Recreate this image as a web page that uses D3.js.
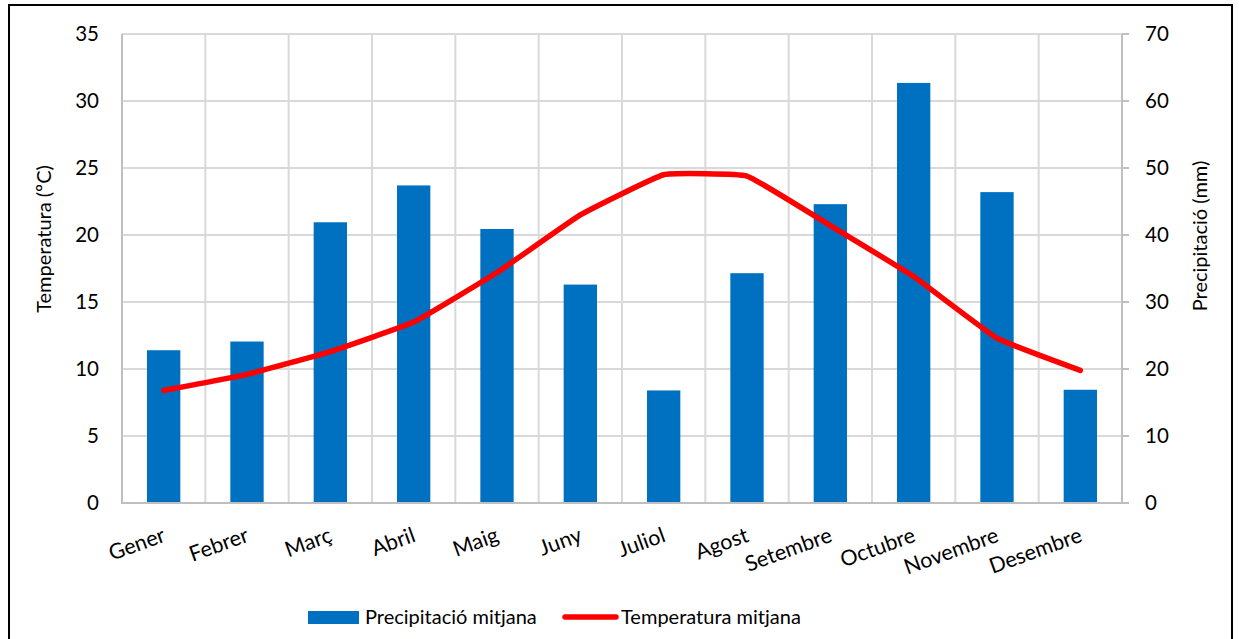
<!DOCTYPE html>
<head>
  <meta charset="utf-8">
  <script src="https://d3js.org/d3.v7.min.js"></script>
  <style>
    body { margin: 0; background: #ffffff; }
    svg text { font-family: Lato, "Open Sans", sans-serif; fill: #000000; }
  </style>
</head>
<body>
<script>
  // Dades climàtiques mensuals
  var mesos = ["Gener", "Febrer", "Març", "Abril", "Maig", "Juny",
               "Juliol", "Agost", "Setembre", "Octubre", "Novembre", "Desembre"];
  var precipitacio = [22.8, 24.1, 41.9, 47.4, 40.9, 32.6, 16.8, 34.3, 44.6, 62.7, 46.4, 16.9];
  var temperatura = [8.4, 9.6, 11.3, 13.5, 17.2, 21.5, 24.5, 24.4, 20.7, 16.9, 12.3, 9.9];
  var ticksTemp = [0, 5, 10, 15, 20, 25, 30, 35];
  var ticksPrec = [0, 10, 20, 30, 40, 50, 60, 70];

  var w = 1239, h = 639;
  var pL = 122, pR = 1122, pT = 34, pB = 503;

  var svg = d3.select("body").append("svg")
    .attr("width", w)
    .attr("height", h);

  // marc negre
  svg.append("rect")
    .attr("x", 9).attr("y", 5)
    .attr("width", 1223).attr("height", 660)
    .attr("fill", "none")
    .attr("stroke", "#000")
    .attr("stroke-width", 2);

  var x = d3.scaleBand().domain(mesos).range([pL, pR]);
  var yT = d3.scaleLinear().domain([0, 35]).range([pB, pT]);
  var yP = d3.scaleLinear().domain([0, 70]).range([pB, pT]);

  // quadrícula horitzontal
  svg.append("g").selectAll("line")
    .data(ticksTemp.slice(1))
    .enter().append("line")
    .attr("x1", pL).attr("x2", pR)
    .attr("y1", function(d) { return yT(d); })
    .attr("y2", function(d) { return yT(d); })
    .attr("stroke", "#d9d9d9").attr("stroke-width", 2);

  // quadrícula vertical (entre categories)
  svg.append("g").selectAll("line")
    .data(mesos.slice(1))
    .enter().append("line")
    .attr("x1", function(d) { return x(d); })
    .attr("x2", function(d) { return x(d); })
    .attr("y1", pT).attr("y2", pB)
    .attr("stroke", "#d9d9d9").attr("stroke-width", 2);

  // barres de precipitació
  var bw = x.bandwidth() * 0.4;
  svg.append("g").selectAll("rect")
    .data(precipitacio)
    .enter().append("rect")
    .attr("x", function(d, i) { return x(mesos[i]) + x.bandwidth() / 2 - bw / 2; })
    .attr("y", function(d) { return yP(d); })
    .attr("width", bw)
    .attr("height", function(d) { return pB - yP(d); })
    .attr("fill", "#0070c0");

  // eixos
  var ax = svg.append("g").attr("stroke", "#bfbfbf").attr("stroke-width", 2);
  ax.append("line").attr("x1", pL).attr("x2", pL).attr("y1", pT).attr("y2", pB + 1);
  ax.append("line").attr("x1", pL).attr("x2", pR + 7).attr("y1", pB).attr("y2", pB);
  ax.append("line").attr("x1", pR).attr("x2", pR).attr("y1", pT).attr("y2", pB);
  ax.selectAll(".tk").data(ticksPrec).enter().append("line")
    .attr("x1", pR).attr("x2", pR + 7)
    .attr("y1", function(d) { return yP(d); })
    .attr("y2", function(d) { return yP(d); });

  // etiquetes de l'eix esquerre
  svg.append("g").selectAll("text")
    .data(ticksTemp)
    .enter().append("text")
    .attr("x", 99)
    .attr("y", function(d) { return yT(d); })
    .attr("dy", "0.36em")
    .attr("text-anchor", "end")
    .style("font-size", "20.5px")
    .text(function(d) { return d; });

  // etiquetes de l'eix dret
  svg.append("g").selectAll("text")
    .data(ticksPrec)
    .enter().append("text")
    .attr("x", 1145)
    .attr("y", function(d) { return yP(d); })
    .attr("dy", "0.36em")
    .style("font-size", "20.5px")
    .text(function(d) { return d; });

  // etiquetes dels mesos (inclinades)
  svg.append("g").selectAll("text")
    .data(mesos)
    .enter().append("text")
    .attr("transform", function(d) {
      return "translate(" + (x(d) + x.bandwidth() / 2 + 3) + "," + 541 + ") rotate(-20)";
    })
    .attr("text-anchor", "end")
    .style("font-size", "21.5px")
    .text(function(d) { return d; });

  // títols dels eixos
  svg.append("text")
    .attr("transform", "translate(51,239) rotate(-90)")
    .attr("text-anchor", "middle")
    .style("font-size", "20px")
    .text("Temperatura (ºC)");
  svg.append("text")
    .attr("transform", "translate(1207,236) rotate(-90)")
    .attr("text-anchor", "middle")
    .style("font-size", "20px")
    .text("Precipitació (mm)");

  // línia de temperatura (suavitzat lleuger)
  var line = d3.line()
    .x(function(d, i) { return x(mesos[i]) + x.bandwidth() / 2; })
    .y(function(d) { return yT(d); })
    .curve(d3.curveCardinal.tension(0.7));
  svg.append("path")
    .datum(temperatura)
    .attr("d", line)
    .attr("fill", "none")
    .attr("stroke", "#ff0000")
    .attr("stroke-width", 5.5)
    .attr("stroke-linecap", "round")
    .attr("stroke-linejoin", "round");

  // llegenda
  var lg = svg.append("g");
  lg.append("rect")
    .attr("x", 308).attr("y", 611)
    .attr("width", 51).attr("height", 13)
    .attr("fill", "#0070c0");
  lg.append("text")
    .attr("x", 365).attr("y", 624)
    .style("font-size", "20px")
    .text("Precipitació mitjana");
  lg.append("line")
    .attr("x1", 565).attr("x2", 616)
    .attr("y1", 617).attr("y2", 617)
    .attr("stroke", "#ff0000").attr("stroke-width", 5.5)
    .attr("stroke-linecap", "round");
  lg.append("text")
    .attr("x", 621).attr("y", 624)
    .style("font-size", "20px")
    .text("Temperatura mitjana");
</script>
</body>
